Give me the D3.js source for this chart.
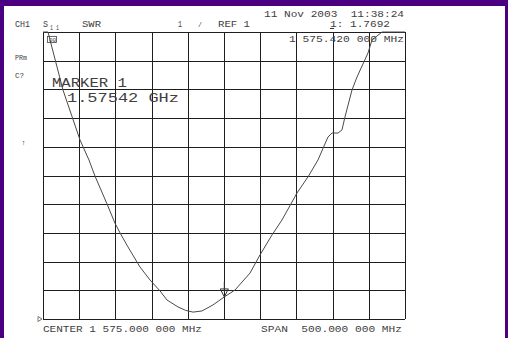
<html>
<head>
    <title>SWR sweep</title>
    <script type="text/javascript" src="https://d3js.org/d3.v7.min.js"></script>
    <style>
        body {
            margin: 0;
            background: #4b0082;
        }

        .lbl {
            font-family: "Liberation Mono", "DejaVu Sans Mono", monospace;
            fill: #404040;
            white-space: pre;
        }

        .grid {
            stroke: #1e1e1e;
            stroke-width: 1px;
            shape-rendering: crispEdges;
        }

        .trace {
            fill: none;
            stroke: #4a4a4a;
            stroke-width: 1px;
        }
    </style>
</head>
<body>
<div id="my_dataviz"></div>

<script>
    // sweep: 1325..1825 MHz, SWR 1 per division, reference 1 at bottom
    var freqMHz = [1325, 1331.9, 1352.6, 1376.1, 1388.5, 1396.8, 1413.4, 1424.4, 1431.4, 1442.4,
        1459.0, 1472.8, 1486.6, 1496.3, 1511.5, 1522, 1532.2, 1544.6, 1559.8, 1575.42,
        1590.2, 1610.9, 1624.7, 1641.3, 1655.1, 1675.8, 1691.0, 1704.8, 1718.6, 1724.2,
        1732.5, 1738.0, 1742.1, 1751.8, 1758.7, 1773.9, 1779.4, 1793.2, 1825];
    var swr = [11.6, 11.0, 8.98, 7.24, 6.54, 5.98, 5.01, 4.34, 4.00, 3.51,
        2.81, 2.36, 1.98, 1.66, 1.42, 1.30, 1.24, 1.28, 1.49, 1.7692,
        2.01, 2.60, 3.23, 3.93, 4.45, 5.39, 5.95, 6.54, 7.34, 7.48,
        7.48, 7.59, 8.04, 8.98, 9.43, 10.27, 10.72, 11.1, 11.5];

    var xGrid = d3.range(1325, 1826, 50);
    var yGrid = d3.range(1, 12, 1);

    var marker = {f: 1575.42, v: 1.7692};

    // [text, x, y, length, size]
    var labels = [
        ["CH1", 15, 27, 15, 8.5],
        ["S", 43, 27, 5, 8.5],
        ["1 1", 50, 29.5, 9, 6.5],
        ["SWR", 82, 27, 19, 8.5],
        ["1", 178, 27, 4, 8.5],
        ["/", 198, 27, 4, 7],
        ["REF 1", 218, 27, 32, 8.5],
        ["11 Nov 2003  11:38:24", 264, 17, 140, 8.5],
        ["1: 1.7692", 330, 27, 60, 8.5],
        ["1 575.420 000 MHz", 289, 42, 115, 8.5],
        ["PRm", 15, 60, 12, 7.5],
        ["C?", 15, 78, 9, 7.5],
        ["\u2191", 21, 145, 5, 7],
        ["MARKER 1", 52, 87, 75, 13],
        ["1.57542 GHz", 67, 102, 112, 13],
        ["CENTER 1 575.000 000 MHz", 43, 332, 159, 9],
        ["SPAN  500.000 000 MHz", 261, 332, 141, 9]
    ];

    var W = 508, H = 338;

    var svg = d3.select("#my_dataviz")
        .append("svg")
        .attr("width", W)
        .attr("height", H)
        .style("display", "block");

    svg.append("rect")
        .attr("x", 0).attr("y", 0).attr("width", W).attr("height", H)
        .attr("fill", "#4b0082");
    svg.append("rect")
        .attr("x", 4).attr("y", 6).attr("width", 501).attr("height", H - 6)
        .attr("fill", "#ffffff");

    var x = d3.scaleLinear().domain([1325, 1825]).range([43, 405]);
    var y = d3.scaleLinear().domain([1, 11]).range([319, 32]).clamp(true);

    // grid
    svg.append("g").selectAll("line.v")
        .data(xGrid)
        .join("line")
        .attr("class", "grid")
        .attr("x1", function (d) { return Math.round(x(d)) + 0.5; })
        .attr("x2", function (d) { return Math.round(x(d)) + 0.5; })
        .attr("y1", y(11))
        .attr("y2", y(1));

    svg.append("g").selectAll("line.h")
        .data(yGrid)
        .join("line")
        .attr("class", "grid")
        .attr("y1", function (d) { return Math.round(y(d)) + 0.5; })
        .attr("y2", function (d) { return Math.round(y(d)) + 0.5; })
        .attr("x1", x(1325))
        .attr("x2", x(1825));

    // trace
    var line = d3.line()
        .x(function (d, i) { return x(freqMHz[i]); })
        .y(function (d) { return y(d); });

    svg.append("path")
        .datum(swr)
        .attr("class", "trace")
        .attr("d", line);

    // marker 1
    var mx = x(marker.f), my = y(marker.v);
    svg.append("path")
        .attr("d", "M" + (mx - 4) + "," + (my - 8) + "L" + (mx + 4) + "," + (my - 8) + "L" + mx + "," + my + "Z")
        .attr("fill", "none")
        .attr("stroke", "#333")
        .attr("stroke-width", 1);
    svg.append("line")
        .attr("x1", mx).attr("x2", mx)
        .attr("y1", my - 15).attr("y2", my - 5)
        .attr("stroke", "#333");

    // reference position marker
    var ry = y(1);
    svg.append("path")
        .attr("d", "M38," + (ry - 2.5) + "L42," + ry + "L38," + (ry + 2.5) + "Z")
        .attr("fill", "none")
        .attr("stroke", "#555")
        .attr("stroke-width", 0.8);

    // small start marker box near top-left
    svg.append("rect")
        .attr("x", 47.5).attr("y", 36.5).attr("width", 9).attr("height", 6)
        .attr("fill", "none")
        .attr("stroke", "#444")
        .attr("stroke-width", 0.8);
    svg.append("text")
        .attr("class", "lbl")
        .attr("x", 49).attr("y", 42)
        .style("font-size", "6px")
        .text("00");

    // underline on active marker number
    svg.append("line")
        .attr("x1", 330).attr("x2", 334)
        .attr("y1", 28.5).attr("y2", 28.5)
        .attr("stroke", "#333");

    svg.append("g").selectAll("text")
        .data(labels)
        .join("text")
        .attr("class", "lbl")
        .attr("x", function (d) { return d[1]; })
        .attr("y", function (d) { return d[2]; })
        .attr("textLength", function (d) { return d[3]; })
        .attr("lengthAdjust", "spacingAndGlyphs")
        .style("font-size", function (d) { return d[4] + "px"; })
        .text(function (d) { return d[0]; });
</script>
</body>
</html>
